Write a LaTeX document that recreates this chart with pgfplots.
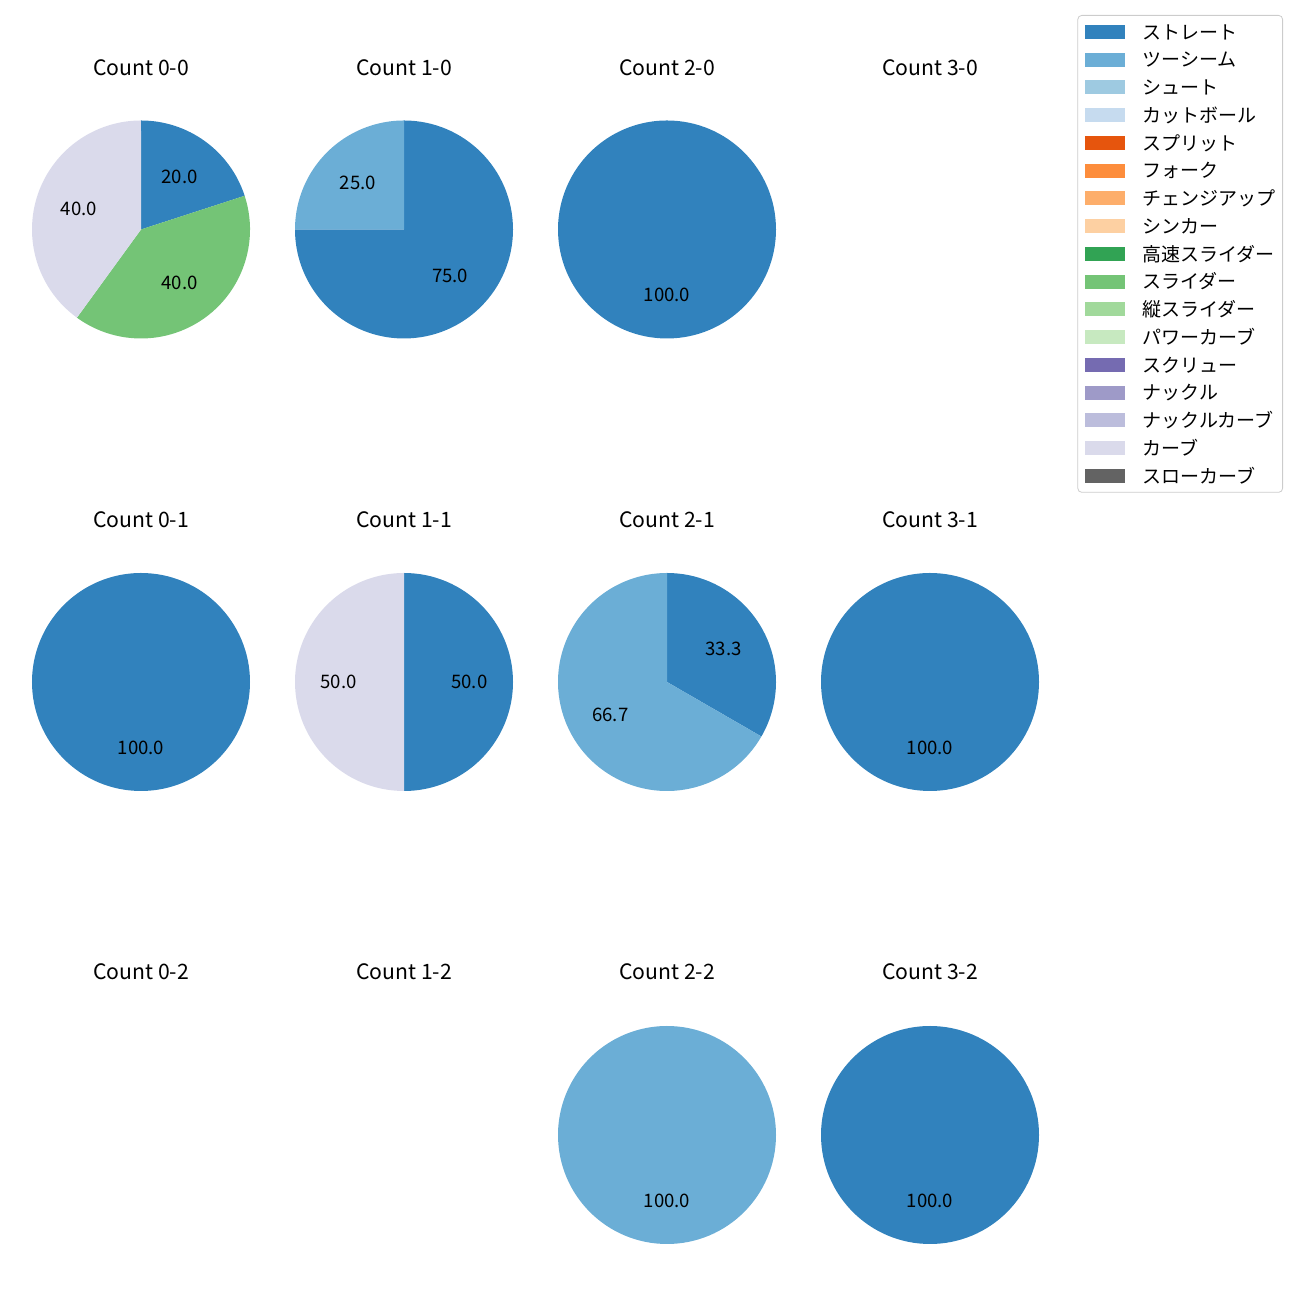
\documentclass[border=0pt]{standalone}
\usepackage{fontspec}
\setmainfont{Noto Sans CJK JP}
\usepackage{pgfplots}
\pgfplotsset{compat=1.18}
\definecolor{c1}{HTML}{3182BD}
\definecolor{c2}{HTML}{6BAED6}
\definecolor{c3}{HTML}{9ECAE1}
\definecolor{c4}{HTML}{C6DBEF}
\definecolor{c5}{HTML}{E6550D}
\definecolor{c6}{HTML}{FD8D3C}
\definecolor{c7}{HTML}{FDAE6B}
\definecolor{c8}{HTML}{FDD0A2}
\definecolor{c9}{HTML}{31A354}
\definecolor{c10}{HTML}{74C476}
\definecolor{c11}{HTML}{A1D99B}
\definecolor{c12}{HTML}{C7E9C0}
\definecolor{c13}{HTML}{756BB1}
\definecolor{c14}{HTML}{9E9AC8}
\definecolor{c15}{HTML}{BCBDDC}
\definecolor{c16}{HTML}{DADAEB}
\definecolor{c17}{HTML}{636363}
\newcommand{\pieR}{54.5pt}
\newcommand{\labfont}{\fontsize{9.3pt}{11pt}\selectfont}
\newcommand{\titfont}{\fontsize{10.6pt}{12pt}\selectfont}
\newcommand{\legfont}{\fontsize{9.5pt}{11pt}\selectfont}
% #1 cumulative percent before wedge, #2 percent, #3 colour, #4 label
\newcommand{\wedgeP}[4]{%
  \fill[#3] (axis cs:0,0) -- (axis cs:{cos(90-3.6*(#1))},{sin(90-3.6*(#1))})
    arc[start angle={90-3.6*(#1)}, end angle={90-3.6*(#1+#2)}, radius=\pieR] -- cycle;
  \node[font=\labfont] at (axis cs:{0.6*cos(90-3.6*(#1+#2/2))},{0.6*sin(90-3.6*(#1+#2/2))}) {#4};}
\pgfplotsset{pieax/.style={hide axis, scale only axis, width=109pt, height=109pt,
  xmin=-1, xmax=1, ymin=-1, ymax=1, clip=false}}
\newcommand{\pietitle}[3]{\node[font=\titfont, anchor=base] at (#1pt,#2pt) {#3};}
\begin{document}
\begin{tikzpicture}
\path (0pt,0pt) rectangle (650pt,650pt);
% Row 0
\pietitle{70.5}{612}{Count 0-0}
\begin{axis}[pieax, at={(70.5pt,535.25pt)}, anchor=center]
\wedgeP{0}{20}{c1}{20.0}
\wedgeP{20}{40}{c10}{40.0}
\wedgeP{60}{40}{c16}{40.0}
\end{axis}
\pietitle{202}{612}{Count 1-0}
\begin{axis}[pieax, at={(202pt,535.25pt)}, anchor=center]
\wedgeP{0}{75}{c1}{75.0}
\wedgeP{75}{25}{c2}{25.0}
\end{axis}
\pietitle{333.5}{612}{Count 2-0}
\begin{axis}[pieax, at={(333.5pt,535.25pt)}, anchor=center]
\wedgeP{0}{100}{c1}{100.0}
\end{axis}
\pietitle{465}{612}{Count 3-0}
% Row 1
\pietitle{70.5}{386}{Count 0-1}
\begin{axis}[pieax, at={(70.5pt,309pt)}, anchor=center]
\wedgeP{0}{100}{c1}{100.0}
\end{axis}
\pietitle{202}{386}{Count 1-1}
\begin{axis}[pieax, at={(202pt,309pt)}, anchor=center]
\wedgeP{0}{50}{c1}{50.0}
\wedgeP{50}{50}{c16}{50.0}
\end{axis}
\pietitle{333.5}{386}{Count 2-1}
\begin{axis}[pieax, at={(333.5pt,309pt)}, anchor=center]
\wedgeP{0}{33.333}{c1}{33.3}
\wedgeP{33.333}{66.667}{c2}{66.7}
\end{axis}
\pietitle{465}{386}{Count 3-1}
\begin{axis}[pieax, at={(465pt,309pt)}, anchor=center]
\wedgeP{0}{100}{c1}{100.0}
\end{axis}
% Row 2
\pietitle{70.5}{160}{Count 0-2}
\pietitle{202}{160}{Count 1-2}
\pietitle{333.5}{160}{Count 2-2}
\begin{axis}[pieax, at={(333.5pt,82.5pt)}, anchor=center]
\wedgeP{0}{100}{c2}{100.0}
\end{axis}
\pietitle{465}{160}{Count 3-2}
\begin{axis}[pieax, at={(465pt,82.5pt)}, anchor=center]
\wedgeP{0}{100}{c1}{100.0}
\end{axis}
% Legend
\begin{axis}[at={(641.5pt,642.5pt)}, anchor=north east, hide axis, scale only axis,
  width=10pt, height=10pt, xmin=0, xmax=1, ymin=0, ymax=1,
  legend style={at={(1,1)}, anchor=north east, draw=black!20, rounded corners=2pt,
    font=\legfont, cells={anchor=west}, inner xsep=3.5pt, inner ysep=1.3pt,
    row sep=0pt, nodes={inner sep=0pt, text height=10.6pt, text depth=3.275pt},
    /tikz/every odd column/.append style={column sep=9pt}},
  legend image code/.code={\fill[#1, sharp corners] (0pt,-3.25pt) rectangle (19.5pt,3.25pt);}]
\addlegendimage{c1}\addlegendentry{ストレート}
\addlegendimage{c2}\addlegendentry{ツーシーム}
\addlegendimage{c3}\addlegendentry{シュート}
\addlegendimage{c4}\addlegendentry{カットボール}
\addlegendimage{c5}\addlegendentry{スプリット}
\addlegendimage{c6}\addlegendentry{フォーク}
\addlegendimage{c7}\addlegendentry{チェンジアップ}
\addlegendimage{c8}\addlegendentry{シンカー}
\addlegendimage{c9}\addlegendentry{高速スライダー}
\addlegendimage{c10}\addlegendentry{スライダー}
\addlegendimage{c11}\addlegendentry{縦スライダー}
\addlegendimage{c12}\addlegendentry{パワーカーブ}
\addlegendimage{c13}\addlegendentry{スクリュー}
\addlegendimage{c14}\addlegendentry{ナックル}
\addlegendimage{c15}\addlegendentry{ナックルカーブ}
\addlegendimage{c16}\addlegendentry{カーブ}
\addlegendimage{c17}\addlegendentry{スローカーブ}
\end{axis}
\end{tikzpicture}
\end{document}
